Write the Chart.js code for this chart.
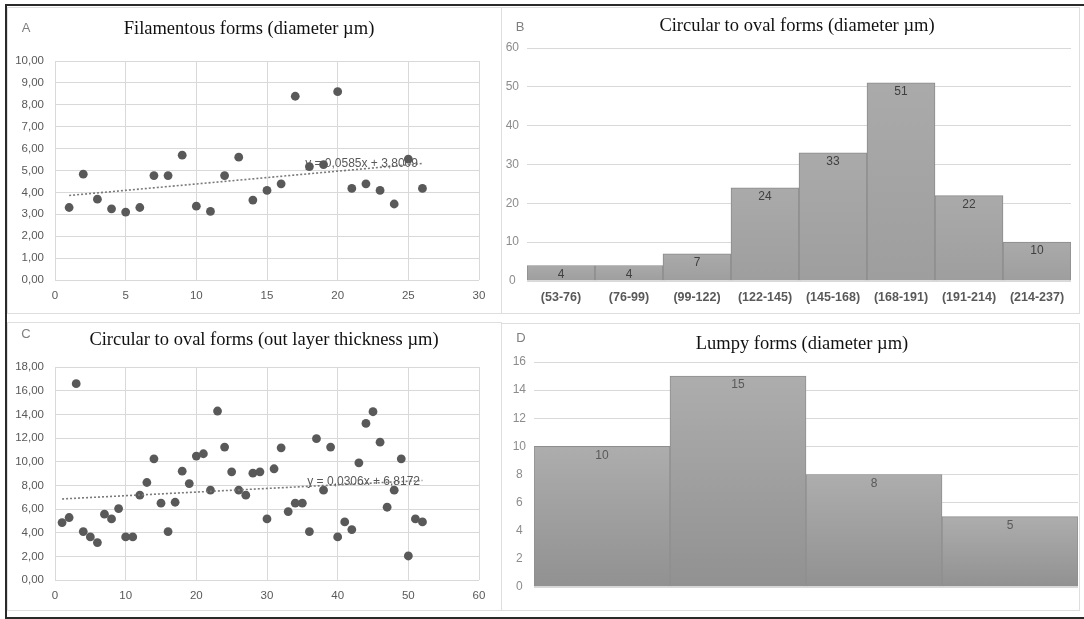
<!DOCTYPE html>
<html>
<head>
<meta charset="utf-8">
<script src="https://cdn.jsdelivr.net/npm/chart.js@4.4.1/dist/chart.umd.min.js"></script>
<style>
  html,body{margin:0;padding:0;background:#fff;}
  body{width:1084px;height:619px;position:relative;overflow:hidden;}
  .abs{position:absolute;}
  .panel{position:absolute;border:1px solid #dedede;box-sizing:border-box;}
  canvas{position:absolute;}
  .title{position:absolute;font-family:"Liberation Serif","Times New Roman",serif;font-size:18.5px;color:#111;white-space:nowrap;transform:translate(-50%,-50%);}
  .letter{position:absolute;font-family:"Liberation Sans",Arial,sans-serif;font-size:13px;color:#7f7f7f;transform:translate(-50%,-50%);}
</style>
</head>
<body>
<div class="abs" style="left:5px;top:4px;width:1079px;height:611px;border-left:2px solid #2a2a2a;border-top:2px solid #2a2a2a;border-bottom:2px solid #2a2a2a;"></div>

<div class="panel" style="left:7px;top:7px;width:495px;height:307px;"></div>
<div class="panel" style="left:501px;top:7px;width:579px;height:307px;"></div>
<div class="panel" style="left:7px;top:322px;width:495px;height:289px;"></div>
<div class="panel" style="left:501px;top:323px;width:579px;height:288px;"></div>

<canvas id="cA" width="494" height="306" style="left:7px;top:7px;"></canvas>
<canvas id="cB" width="578" height="306" style="left:501px;top:7px;"></canvas>
<canvas id="cC" width="494" height="288" style="left:7px;top:322px;"></canvas>
<canvas id="cD" width="578" height="288" style="left:501px;top:323px;"></canvas>

<div class="title" style="left:249px;top:28px;">Filamentous forms (diameter µm)</div>
<div class="title" style="left:797px;top:25px;">Circular to oval forms (diameter µm)</div>
<div class="title" style="left:264px;top:339px;">Circular to oval forms (out layer thickness µm)</div>
<div class="title" style="left:802px;top:343px;">Lumpy forms (diameter µm)</div>
<div class="letter" style="left:26px;top:27px;">A</div>
<div class="letter" style="left:520px;top:26px;">B</div>
<div class="letter" style="left:26px;top:333px;">C</div>
<div class="letter" style="left:521px;top:337px;">D</div>

<script>
// ---------- Data ----------
// Panel A: filamentous forms (diameter µm)
const xA = [1,2,3,4,5,6,7,8,9,10,11,12,13,14,15,16,17,18,19,20,21,22,23,24,25,26];
const yA = [3.31,4.83,3.69,3.25,3.10,3.31,4.77,4.77,5.70,3.37,3.13,4.77,5.61,3.65,4.09,4.39,8.39,5.18,5.27,8.60,4.18,4.39,4.09,3.47,5.52,4.18];
const trendAx = [1, 26];
const trendAy = [3.86, 5.32];
const trendALabel = "y = 0,0585x + 3,8009";
const yTicksA = ["0,00","1,00","2,00","3,00","4,00","5,00","6,00","7,00","8,00","9,00","10,00"];
const xTicksA = ["0","5","10","15","20","25","30"];

// Panel B: circular to oval forms (diameter µm)
const catsB = ["(53-76)","(76-99)","(99-122)","(122-145)","(145-168)","(168-191)","(191-214)","(214-237)"];
const valsB = [4,4,7,24,33,51,22,10];
const yTicksB = ["0","10","20","30","40","50","60"];

// Panel C: circular to oval forms (out layer thickness µm)
const xC = [1,2,3,4,5,6,7,8,9,10,11,12,13,14,15,16,17,18,19,20,21,22,23,24,25,26,27,28,29,30,31,32,33,34,35,36,37,38,39,40,41,42,43,44,45,46,47,48,49,50,51,52];
const yC = [4.85,5.28,16.59,4.09,3.64,3.16,5.56,5.16,6.04,3.64,3.64,7.17,8.24,10.24,6.49,4.09,6.57,9.20,8.15,10.47,10.67,7.59,14.28,11.23,9.14,7.59,7.17,9.03,9.14,5.16,9.40,11.17,5.78,6.49,6.49,4.09,11.94,7.59,11.23,3.64,4.91,4.26,9.90,13.23,14.22,11.65,6.15,7.59,10.24,2.03,5.16,4.91];
const trendCx = [1, 52];
const trendCy = [6.85, 8.41];
const trendCLabel = "y = 0,0306x + 6,8172";
const yTicksC = ["0,00","2,00","4,00","6,00","8,00","10,00","12,00","14,00","16,00","18,00"];
const xTicksC = ["0","10","20","30","40","50","60"];

// Panel D: lumpy forms (diameter µm)
const catsD = ["1","2","3","4"];
const valsD = [10,15,8,5];
const yTicksD = ["0","2","4","6","8","10","12","14","16"];

// ---------- Helpers ----------
const GRID = '#d9d9d9';
const TICK = '#595959';
const tickFont = {family:'"Liberation Sans", Arial, sans-serif', size:11.5};

function pts(xs, ys){ return xs.map((x,i)=>({x:x, y:ys[i]})); }

const trendLabelPlugin = {
  id:'trendLabel',
  afterDatasetsDraw(chart){
    const o = chart.options.plugins.trendLabel;
    if(!o || !o.text) return;
    const ctx = chart.ctx;
    const px = chart.scales.x.getPixelForValue(o.x);
    const py = chart.scales.y.getPixelForValue(o.y);
    ctx.save();
    ctx.font = '12px "Liberation Sans", Arial, sans-serif';
    ctx.fillStyle = '#595959';
    ctx.textAlign = 'left';
    ctx.textBaseline = 'middle';
    ctx.fillText(o.text, px, py);
    ctx.restore();
  }
};

const barLabelPlugin = {
  id:'barLabel',
  afterDatasetsDraw(chart){
    const o = chart.options.plugins.barLabel;
    if(!o) return;
    const ctx = chart.ctx;
    const meta = chart.getDatasetMeta(0);
    const vals = chart.data.datasets[0].data;
    ctx.save();
    ctx.font = o.font;
    ctx.fillStyle = o.color;
    ctx.textAlign = 'center';
    ctx.textBaseline = 'middle';
    meta.data.forEach((el,i)=>{
      ctx.fillText(String(vals[i]), el.x, el.y + o.offset);
    });
    ctx.restore();
  }
};

function scatterChart(id, xs, ys, tx, ty, label, labelPos, xmax, xstep, ymax, ystep, yLabels, xLabels, area, W, H){
  return new Chart(document.getElementById(id), {
    type:'scatter',
    data:{datasets:[
      {data:pts(tx,ty), showLine:true, borderColor:'#7a7a7a', borderWidth:1.6, borderDash:[2,2], pointRadius:0, fill:false},
      {data:pts(xs,ys), backgroundColor:'#595959', borderColor:'#595959', borderWidth:0, pointRadius:4.4}
    ]},
    plugins:[trendLabelPlugin],
    options:{
      responsive:false, animation:false, events:[],
      layout:{padding:{left:0, top:area.top, right:W-area.right, bottom:0}},
      plugins:{legend:{display:false}, tooltip:{enabled:false}, trendLabel:{text:label, x:labelPos[0], y:labelPos[1]}},
      scales:{
        x:{type:'linear', min:0, max:xmax,
           ticks:{stepSize:xstep, color:TICK, font:tickFont, padding:9, maxRotation:0, callback:(v,i)=>xLabels[i]},
           grid:{color:GRID, drawTicks:false, lineWidth:1}, border:{display:false},
           afterFit(s){ s.height = H-area.bottom; }},
        y:{type:'linear', min:0, max:ymax,
           ticks:{stepSize:ystep, color:TICK, font:tickFont, padding:11, callback:(v,i)=>yLabels[i]},
           grid:{color:GRID, drawTicks:false, lineWidth:1}, border:{display:false},
           afterFit(s){ s.width = area.left; }}
      }
    }
  });
}

function gradFill(top, bottom){
  return (c)=>{
    const ch = c.chart;
    if(!ch.chartArea || c.raw === undefined) return top;
    const ys = ch.scales.y;
    const t = ys.getPixelForValue(c.raw), b = ys.getPixelForValue(0);
    if(!isFinite(t) || !isFinite(b) || t===b) return top;
    const g = ch.ctx.createLinearGradient(0,t,0,b);
    g.addColorStop(0, top); g.addColorStop(1, bottom);
    return g;
  };
}

function barChart(id, cats, vals, ymax, ystep, yLabels, area, W, H, showX, fillTop, fillBot, border, labelColor){
  return new Chart(document.getElementById(id), {
    type:'bar',
    data:{labels:cats, datasets:[{data:vals, backgroundColor:gradFill(fillTop, fillBot), borderColor:border, borderWidth:1,
      categoryPercentage:1.0, barPercentage:1.0, borderSkipped:'bottom'}]},
    plugins:[barLabelPlugin],
    options:{
      responsive:false, animation:false, events:[],
      layout:{padding:{left:0, top:area.top, right:W-area.right, bottom:0}},
      plugins:{legend:{display:false}, tooltip:{enabled:false},
        barLabel:{font:'12px "Liberation Sans", Arial, sans-serif', color:labelColor, offset:9}},
      scales:{
        x:{ticks:{display:showX, color:TICK, font:{family:'"Liberation Sans", Arial, sans-serif', size:12.5, weight:'bold'}, padding:9, maxRotation:0, autoSkip:false},
           grid:{display:false, drawTicks:false}, border:{display:false},
           afterFit(s){ s.height = H-area.bottom; }},
        y:{min:0, max:ymax,
           ticks:{stepSize:ystep, color:'#8c8c8c', font:{family:'"Liberation Sans", Arial, sans-serif', size:12}, padding:8, crossAlign:'center', callback:(v,i)=>yLabels[i]},
           grid:{color:GRID, drawTicks:false, lineWidth:1}, border:{display:false},
           afterFit(s){ s.width = area.left; }}
      }
    }
  });
}

// Panel A (canvas at 7,7): plot page 55..479 x 61..280
scatterChart('cA', xA, yA, trendAx, trendAy, trendALabel, [17.7, 5.30], 30, 5, 10, 1, yTicksA, xTicksA,
  {left:48, right:472, top:54, bottom:273}, 494, 306);
// Panel C (canvas at 7,322): plot page 55..479 x 367..580
scatterChart('cC', xC, yC, trendCx, trendCy, trendCLabel, [35.7, 8.28], 60, 10, 18, 2, yTicksC, xTicksC,
  {left:48, right:472, top:45, bottom:258}, 494, 288);
// Panel B (canvas at 501,7): plot page 527..1071 x 48..281
barChart('cB', catsB, valsB, 60, 10, yTicksB, {left:26, right:570, top:41, bottom:274}, 578, 306, true,
  '#aaaaaa', '#9e9e9e', '#8a8a8a', '#404040');
// Panel D (canvas at 501,323): plot page 534..1078 x 362..587
barChart('cD', catsD, valsD, 16, 2, yTicksD, {left:33, right:577, top:39, bottom:264}, 578, 288, false,
  '#adadad', '#919191', '#8e8e8e', '#595959');
</script>
</body>
</html>
